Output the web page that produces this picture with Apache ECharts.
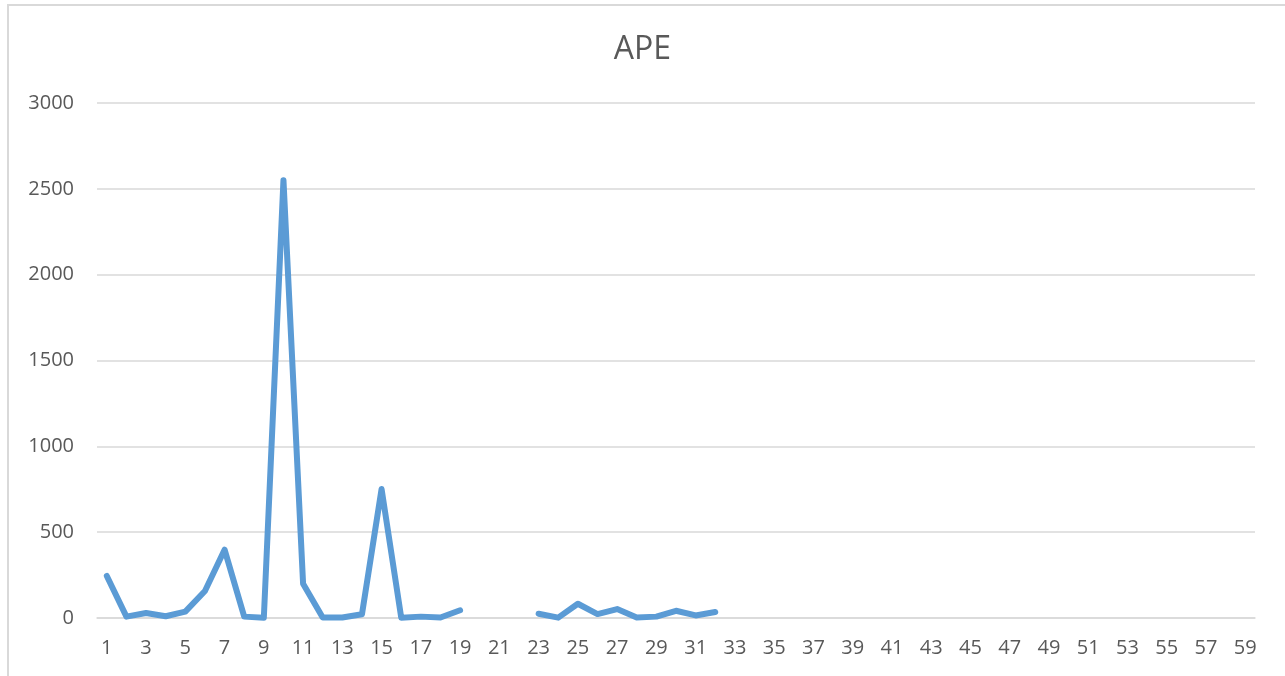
<!DOCTYPE html>
<html>
<head>
<meta charset="utf-8">
<title>APE</title>
<script src="https://cdn.jsdelivr.net/npm/echarts@6/dist/echarts.min.js"></script>
<style>
  html, body { margin: 0; padding: 0; background: #ffffff; }
  #chart { width: 1285px; height: 676px; }
</style>
</head>
<body>
<div id="chart"></div>
<script>
// Periods 1..59 on the category axis
const categories = [];
for (let i = 1; i <= 59; i++) categories.push(String(i));

// APE per period (null = no value, leaves a gap in the line)
const apeValues = [
  245, 8, 29, 10, 37, 157, 398, 8, 2, 2550,
  200, 3, 3, 22, 751, 2, 8, 3, 45, null,
  null, null, 25, 2, 83, 23, 52, 3, 8, 42,
  15, 35
];
while (apeValues.length < categories.length) apeValues.push(null);

const titleText = 'APE';
const yTicks = { min: 0, max: 3000, interval: 500 };

const textColor = '#595959';
const gridColor = '#d9d9d9';
const lineColor = '#5b9bd5';
const fontFamily = '"Open Sans", "Liberation Sans", sans-serif';

const chart = echarts.init(document.getElementById('chart'), null, { renderer: 'canvas' });

chart.setOption({
  animation: false,
  backgroundColor: '#ffffff',
  title: {
    text: titleText,
    left: 'center',
    top: 29,
    textStyle: { color: textColor, fontSize: 32, fontWeight: 'normal', fontFamily: fontFamily }
  },
  grid: { left: 97, right: 30, top: 103, bottom: 58, containLabel: false },
  xAxis: {
    type: 'category',
    data: categories,
    boundaryGap: true,
    axisLine: { show: true, lineStyle: { color: gridColor, width: 1.5 } },
    axisTick: { show: false },
    axisLabel: { interval: 1, color: textColor, fontSize: 20, fontFamily: fontFamily, margin: 20 },
    splitLine: { show: false }
  },
  yAxis: {
    type: 'value',
    min: yTicks.min,
    max: yTicks.max,
    interval: yTicks.interval,
    axisLine: { show: false },
    axisTick: { show: false },
    axisLabel: {
      color: textColor, fontSize: 20, fontFamily: fontFamily, margin: 23,
      formatter: (v) => String(v)
    },
    splitLine: { show: true, lineStyle: { color: gridColor, width: 1.5 } }
  },
  series: [{
    name: titleText,
    type: 'line',
    data: apeValues,
    connectNulls: false,
    showSymbol: false,
    symbol: 'none',
    lineStyle: { color: lineColor, width: 6, cap: 'round', join: 'round' },
    itemStyle: { color: lineColor }
  }],
  graphic: [{
    type: 'polyline',
    silent: true,
    shape: { points: [[8, 676], [8, 5], [1285, 5]] },
    style: { stroke: gridColor, lineWidth: 2, fill: null }
  }]
});
</script>
</body>
</html>
